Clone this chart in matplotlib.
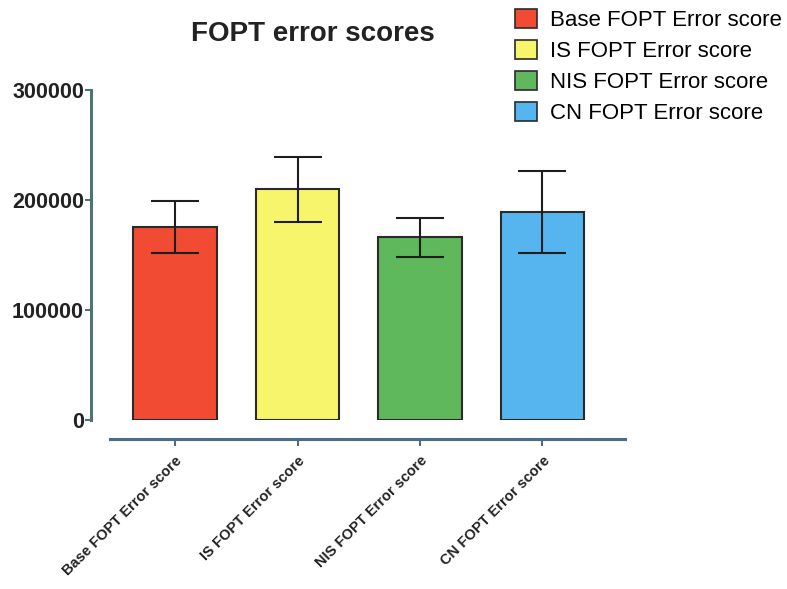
import matplotlib
matplotlib.use("Agg")
import matplotlib.pyplot as plt
from matplotlib.patches import Patch

# values
labels = ["Base FOPT Error score", "IS FOPT Error score", "NIS FOPT Error score", "CN FOPT Error score"]
means = [175500, 210000, 166000, 189000]
errs = [23500, 29500, 17500, 37500]
colors = ["#f24b33", "#f7f56c", "#5fb85b", "#56b5ef"]
yticks = [0, 100000, 200000, 300000]

plt.rcParams['font.family'] = ['Liberation Sans', 'DejaVu Sans']

fig = plt.figure(figsize=(7.87, 5.89), dpi=100)
ax = fig.add_axes([0.1156, 0.287, 0.678, 0.560])

x = list(range(len(labels)))
ax.bar(x, means, width=0.68, color=colors, edgecolor="#2a2a2a", linewidth=1.5, zorder=2)
ax.errorbar(x, means, yerr=errs, fmt="none", ecolor="#1e1e1e", elinewidth=1.5,
            capsize=17, capthick=1.5, zorder=3)

ax.set_xlim(-0.686, 3.67)
ax.set_ylim(0, 300000)
ax.set_yticks(yticks)
ax.set_yticklabels([str(v) for v in yticks])
ax.set_xticks(x)
ax.set_xticklabels(labels)

ax.spines["top"].set_visible(False)
ax.spines["right"].set_visible(False)
ax.spines["left"].set_color("#4f7272")
ax.spines["left"].set_linewidth(2.2)
ax.spines["bottom"].set_color("#4c6c8a")
ax.spines["bottom"].set_linewidth(2.2)
ax.spines["bottom"].set_position(("outward", 14))
ax.spines["bottom"].set_bounds(-0.53, 3.67)
ax.tick_params(axis="y", length=4, width=1.5, color="#4f7272", pad=1)
ax.tick_params(axis="x", length=5, width=1.5, color="#4c6c8a", pad=5)

plt.setp(ax.get_yticklabels(), fontsize=15.5, fontweight="bold", color="#222222")
plt.setp(ax.get_xticklabels(), rotation=45, ha="right", rotation_mode="anchor",
         fontsize=10.5, fontweight="bold", color="#222222")

fig.text(0.398, 0.942, "FOPT error scores", fontsize=20, fontweight="bold",
         ha="center", va="center", color="#222222")

handles = [Patch(facecolor=c, edgecolor="#2a2a2a", linewidth=1.2) for c in colors]
fig.legend(handles, labels, loc="upper right", bbox_to_anchor=(1.0, 0.995), frameon=False,
           fontsize=16, handlelength=1.0, handleheight=1.0, handletextpad=0.55,
           labelspacing=0.38, borderaxespad=0.15, borderpad=0.1)

fig.savefig("out.png", dpi=100)
